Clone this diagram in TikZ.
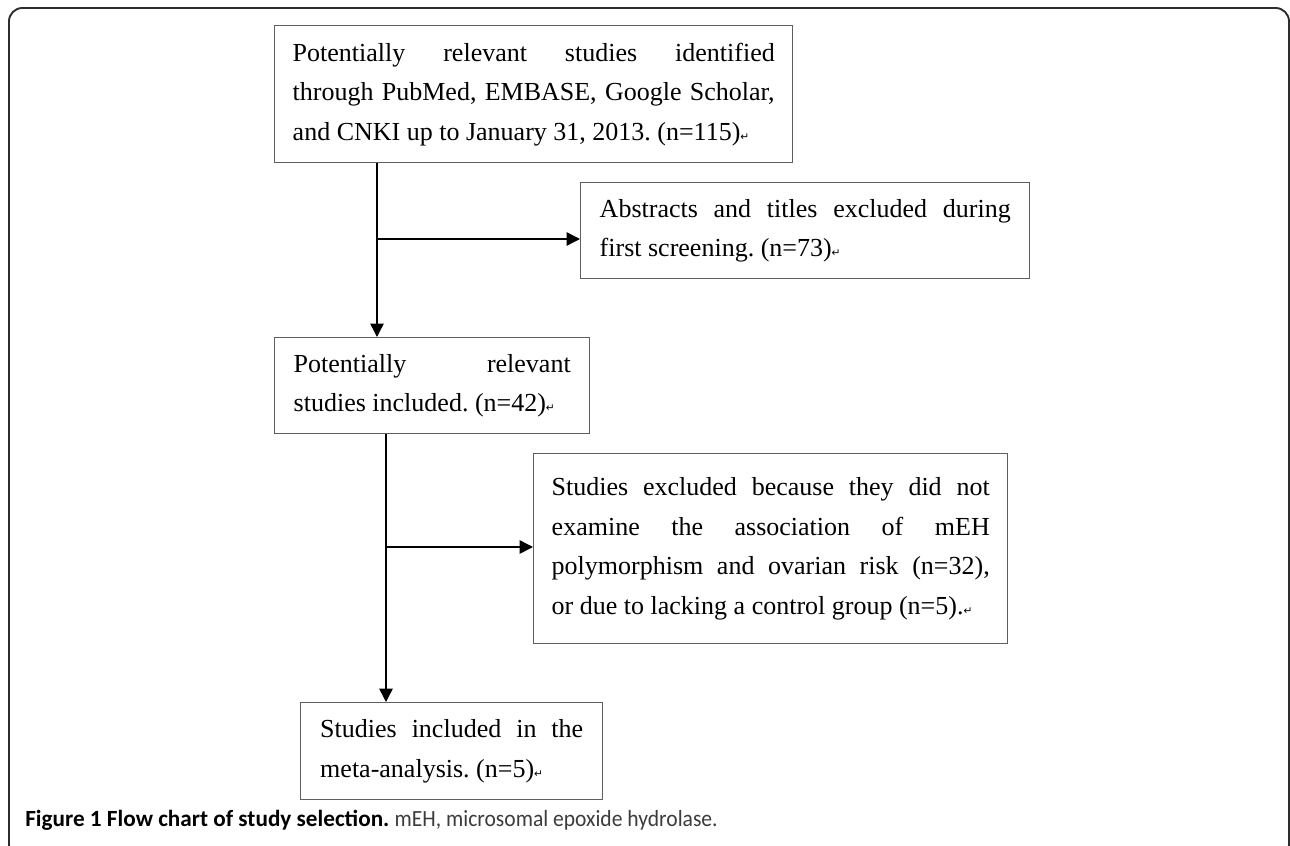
\documentclass[tikz,border=0pt]{standalone}
\usepackage{fontspec}
\setmainfont{Liberation Serif}
\newfontfamily\capfont{Carlito}
\newfontfamily\symfont{DejaVu Sans}
\usetikzlibrary{arrows.meta}
\definecolor{boxgray}{RGB}{95,95,95}
\definecolor{framec}{RGB}{45,45,45}
\definecolor{capgray}{RGB}{60,60,60}
\newcommand{\retmark}{{\symfont\fontsize{8pt}{8pt}\selectfont ↵}}
\frenchspacing
\begin{document}
\begin{tikzpicture}[x=0.75pt,y=-0.75pt,
  box/.style={draw=boxgray, line width=1.1pt, rectangle, align=justify, anchor=north west,
    font=\fontsize{19.5pt}{29.6pt}\selectfont, inner ysep=0pt,
    execute at begin node={\frenchspacing\hyphenpenalty=10000\tolerance=10000\hbadness=10000}},
  conn/.style={line width=1.1pt, -{Triangle[length=10pt,width=10pt]}}]
\useasboundingbox (0,0) rectangle (1290,846);
\begin{scope}
  \clip (0,0) rectangle (1290,846);
  \draw[framec, line width=1.4pt, rounded corners=10pt] (9,8) rectangle (1289,858);
\end{scope}

\node[box, minimum width=388.5pt, minimum height=102.75pt, text width=361.5pt, inner xsep=13.5pt] (b1) at (274,25)
  {Potentially relevant studies identified\linebreak through PubMed, EMBASE, Google Scholar,\linebreak and CNKI up to January 31, 2013. (n=115)\retmark};
\node[box, minimum width=336.75pt, minimum height=72pt, text width=308.25pt, inner xsep=14.25pt] (b2) at (580,182)
  {Abstracts and titles excluded during\linebreak first screening. (n=73)\retmark};
\node[box, minimum width=236.25pt, minimum height=72pt, text width=207.75pt, inner xsep=14.25pt] (b3) at (274,337)
  {Potentially relevant\linebreak studies included. (n=42)\retmark};
\node[box, minimum width=355.5pt, minimum height=142.5pt, text width=328.5pt, inner xsep=13.5pt] (b4) at (533,453)
  {Studies excluded because they did not\linebreak examine the association of mEH\linebreak polymorphism and ovarian risk (n=32),\linebreak or due to lacking a control group (n=5).\retmark};
\node[box, minimum width=226.5pt, minimum height=72.75pt, text width=197.25pt, inner xsep=14.625pt] (b5) at (300,702)
  {Studies included in the\linebreak meta-analysis. (n=5)\retmark};

\coordinate (c1) at (377,239);
\coordinate (c2) at (386,547);
\draw[conn] (b1.south -| c1) -- (b3.north -| c1);
\draw[conn] (c1) -- (c1 -| b2.west);
\draw[conn] (b3.south -| c2) -- (b5.north -| c2);
\draw[conn] (c2) -- (c2 -| b4.west);

\node[anchor=base west, inner sep=0pt, font=\capfont\fontsize{17.4pt}{20pt}\selectfont] (cap) at (25,826)
  {\textbf{Figure 1 Flow chart of study selection.} {\color{capgray}\scalebox{0.93}[1]{mEH, microsomal epoxide hydrolase.}}};
\end{tikzpicture}
\end{document}
